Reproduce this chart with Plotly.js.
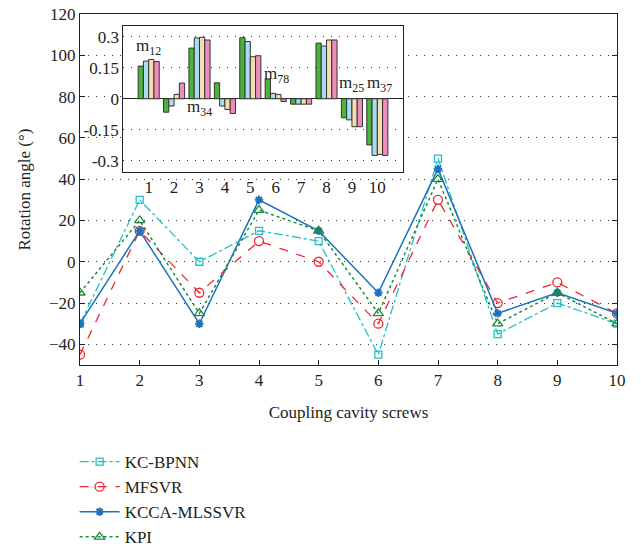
<!DOCTYPE html>
<html><head><meta charset="utf-8">
<script src="https://cdn.plot.ly/plotly-3.0.1.min.js"></script>
<style>html,body{margin:0;padding:0;background:#fff}#chart{width:641px;height:550px}</style>
</head><body><div id="chart"></div>
<script>
const screws = [1,2,3,4,5,6,7,8,9,10];
const kcBpnn = [-30, 30, 0, 15, 10, -45, 50, -35, -20, -30];
const mfsvr = [-45, 15, -15, 10, 0, -30, 30, -20, -10, -25];
const kccaMlssvr = [-30, 15, -30, 30, 15, -15, 45, -25, -15, -25];
const kpi = [-15, 20, -25, 25, 15, -25, 40, -30, -15, -30];

const insetCats = [1,2,3,4,5,6,7,8,9,10];
const insetGreen = [0.158, -0.065, 0.245, 0.077, 0.295, 0.095, -0.026, 0.269, -0.092, -0.223];
const insetBlue = [0.182, -0.035, 0.294, -0.035, 0.277, 0.026, -0.026, 0.255, -0.102, -0.274];
const insetWheat = [0.19, 0.021, 0.297, -0.052, 0.203, 0.021, -0.026, 0.284, -0.135, -0.269];
const insetPink = [0.18, 0.076, 0.284, -0.071, 0.208, -0.013, -0.026, 0.284, -0.135, -0.274];

const serif = "Liberation Serif";
const txt = "#222";
const dotted = "1px,7px";

const traces = [
  {x: screws, y: kcBpnn, name: "KC-BPNN", type: "scatter", mode: "lines+markers",
   line: {color: "#22bfc4", width: 1.3, dash: "dashdot"},
   marker: {symbol: "square-open", size: 7, color: "#22bfc4", line: {width: 1.3}}},
  {x: screws, y: mfsvr, name: "MFSVR", type: "scatter", mode: "lines+markers",
   line: {color: "#f0262e", width: 1.3, dash: "dash"},
   marker: {symbol: "circle-open", size: 9, color: "#f0262e", line: {width: 1.3}}},
  {x: screws, y: kccaMlssvr, name: "KCCA-MLSSVR", type: "scatter", mode: "lines+markers",
   line: {color: "#1a72c0", width: 1.5},
   marker: {symbol: "asterisk-open", size: 7, color: "#1a72c0", line: {width: 2, color: "#1a72c0"}}},
  {x: screws, y: kpi, name: "KPI", type: "scatter", mode: "lines+markers",
   line: {color: "#1e8a3c", width: 1.5, dash: "dot"},
   marker: {symbol: "triangle-up-open", size: 9, color: "#1e8a3c", line: {width: 1.3}}}
];
const barDefs = [[insetGreen, "#4cb43c"], [insetBlue, "#a9dcf2"], [insetWheat, "#f6dcb0"], [insetPink, "#f08cbe"]];
barDefs.forEach(([vals, col]) => {
  traces.push({x: insetCats, y: vals, type: "bar", xaxis: "x2", yaxis: "y2", showlegend: false,
    marker: {color: col, line: {color: "#333", width: 1}}});
});

const mAnn = (label, sub, x, y) => ({xref: "x2", yref: "y2", x: x, y: y, text: label + "<sub>" + sub + "</sub>",
  showarrow: false, font: {family: serif, size: 17, color: txt}});

const layout = {
  width: 641, height: 550,
  margin: {l: 80, r: 24, t: 14, b: 185, autoexpand: false},
  paper_bgcolor: "#fff", plot_bgcolor: "#fff",
  font: {family: serif, size: 17, color: txt},
  showlegend: true,
  barmode: "group", bargap: 0.17, bargroupgap: 0,
  xaxis: {range: [1, 10], tickvals: screws, ticks: "inside", ticklen: 5, tickcolor: "#222",
    showline: true, linecolor: "#222", linewidth: 1, mirror: true, showgrid: false, zeroline: false,
    title: {text: "Coupling cavity screws", font: {family: serif, size: 17, color: txt}, standoff: 16},
    tickfont: {family: serif, size: 17, color: txt}},
  yaxis: {range: [-50, 120], tickvals: [-40,-20,0,20,40,60,80,100,120], ticks: "inside", ticklen: 5, tickcolor: "#222",
    showline: true, linecolor: "#222", linewidth: 1, mirror: "ticks", showgrid: true, gridcolor: "#333", griddash: dotted, gridwidth: 1,
    zeroline: false,
    title: {text: "Rotation angle (°)", font: {family: serif, size: 17, color: txt}, standoff: 14},
    tickfont: {family: serif, size: 17, color: txt}},
  xaxis2: {domain: [0.0806, 0.601], anchor: "y2", range: [0, 11], tickvals: insetCats, ticks: "",
    showline: true, linecolor: "#222", mirror: true, showgrid: false, zeroline: false,
    tickfont: {family: serif, size: 17, color: txt}},
  yaxis2: {domain: [0.551, 0.966], anchor: "x2", range: [-0.352, 0.352], tickvals: [-0.3, -0.15, 0, 0.15, 0.3],
    ticktext: ["-0.3", "-0.15", "0", "0.15", "0.3"], ticks: "",
    showline: true, linecolor: "#222", mirror: true, showgrid: true, gridcolor: "#333", griddash: dotted,
    zeroline: true, zerolinecolor: "#222", zerolinewidth: 1,
    tickfont: {family: serif, size: 17, color: txt}},
  legend: {x: -0.01, xanchor: "left", y: -0.225, yanchor: "top", bgcolor: "rgba(0,0,0,0)",
    font: {family: serif, size: 17, color: txt}, traceorder: "normal", itemwidth: 40},
  annotations: [
    mAnn("m", "12", 1.0, 0.25),
    mAnn("m", "34", 3.0, -0.045),
    mAnn("m", "78", 6.05, 0.115),
    mAnn("m", "25", 9.0, 0.07),
    mAnn("m", "37", 10.07, 0.07)
  ]
};
Plotly.newPlot("chart", traces, layout, {displayModeBar: false, staticPlot: true});
</script></body></html>
